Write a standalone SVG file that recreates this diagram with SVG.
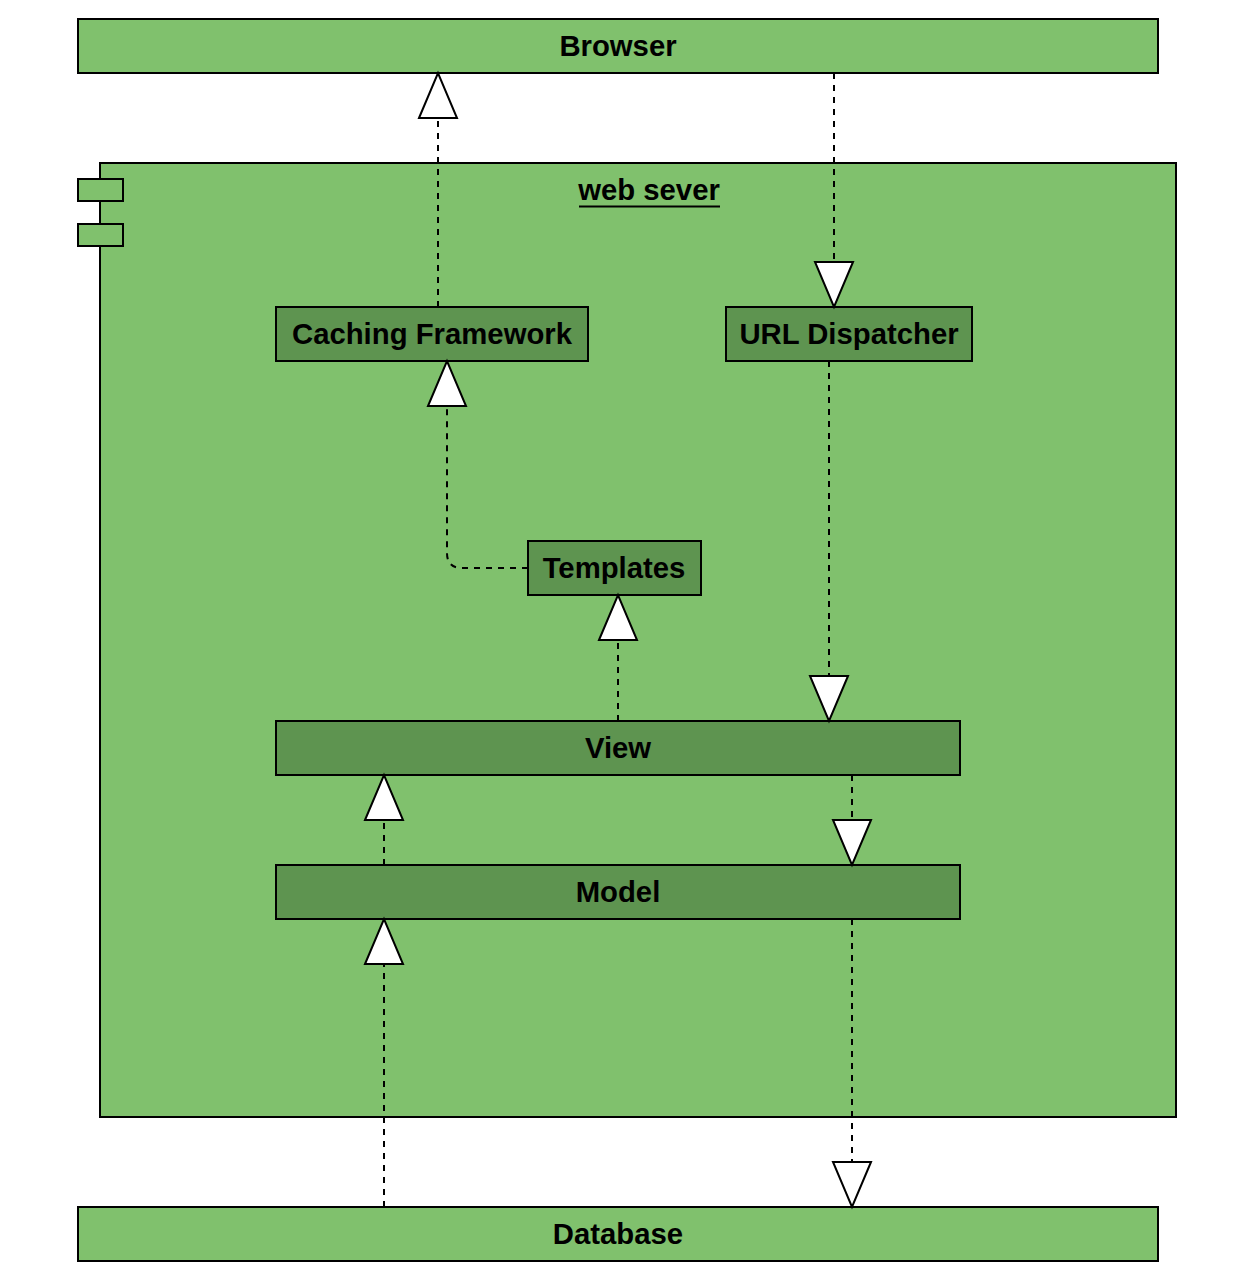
<svg xmlns="http://www.w3.org/2000/svg" width="1240" height="1279" viewBox="0 0 1240 1279">
<style>
.light{fill:#80C16D;stroke:#000;stroke-width:2}
.dark{fill:#5E9450;stroke:#000;stroke-width:2}
.lbl{font-family:"Liberation Sans",Arial,sans-serif;font-weight:bold;font-size:29.3px;fill:#000;text-anchor:middle}
.con{fill:none;stroke:#000;stroke-width:2;stroke-dasharray:6 6;marker-end:url(#tri)}
</style>
<defs>
<marker id="tri" markerUnits="userSpaceOnUse" markerWidth="50" markerHeight="42" viewBox="-2 -2 50 42" refX="45" refY="19" orient="auto" overflow="visible">
<path d="M0,0 L45,19 L0,38 Z" fill="#fff" stroke="#000" stroke-width="2"/>
</marker>
</defs>
<rect width="1240" height="1279" fill="#fff"/>
<g id="browser"><rect class="light" x="78" y="19" width="1080" height="54"/><text class="lbl" x="618" y="56">Browser</text></g>
<g id="webserver">
<rect class="light" x="100" y="163" width="1076" height="954"/>
<rect class="light" x="78" y="179" width="45" height="22"/>
<rect class="light" x="78" y="224" width="45" height="22"/>
<text class="lbl" x="649" y="200">web sever</text>
<line x1="579" y1="206.5" x2="720" y2="206.5" stroke="#000" stroke-width="2"/>
</g>
<g id="caching"><rect class="dark" x="276" y="307" width="312" height="54"/><text class="lbl" x="432" y="344">Caching Framework</text></g>
<g id="urldispatcher"><rect class="dark" x="726" y="307" width="246" height="54"/><text class="lbl" x="849" y="344">URL Dispatcher</text></g>
<g id="templates"><rect class="dark" x="528" y="541" width="173" height="54"/><text class="lbl" x="614" y="578">Templates</text></g>
<g id="view"><rect class="dark" x="276" y="721" width="684" height="54"/><text class="lbl" x="618" y="758">View</text></g>
<g id="model"><rect class="dark" x="276" y="865" width="684" height="54"/><text class="lbl" x="618" y="902">Model</text></g>
<g id="database"><rect class="light" x="78" y="1207" width="1080" height="54"/><text class="lbl" x="618" y="1244">Database</text></g>
<g id="connectors">
<path class="con" d="M438,307 L438,73"/>
<path class="con" d="M834,73 L834,307"/>
<path class="con" d="M528,568 L462,568 Q447,568 447,553 L447,361"/>
<path class="con" d="M618,721 L618,595"/>
<path class="con" d="M829,361 L829,721"/>
<path class="con" d="M852,775 L852,865"/>
<path class="con" d="M384,865 L384,775"/>
<path class="con" d="M384,1207 L384,919"/>
<path class="con" d="M852,919 L852,1207"/>
</g>
</svg>
